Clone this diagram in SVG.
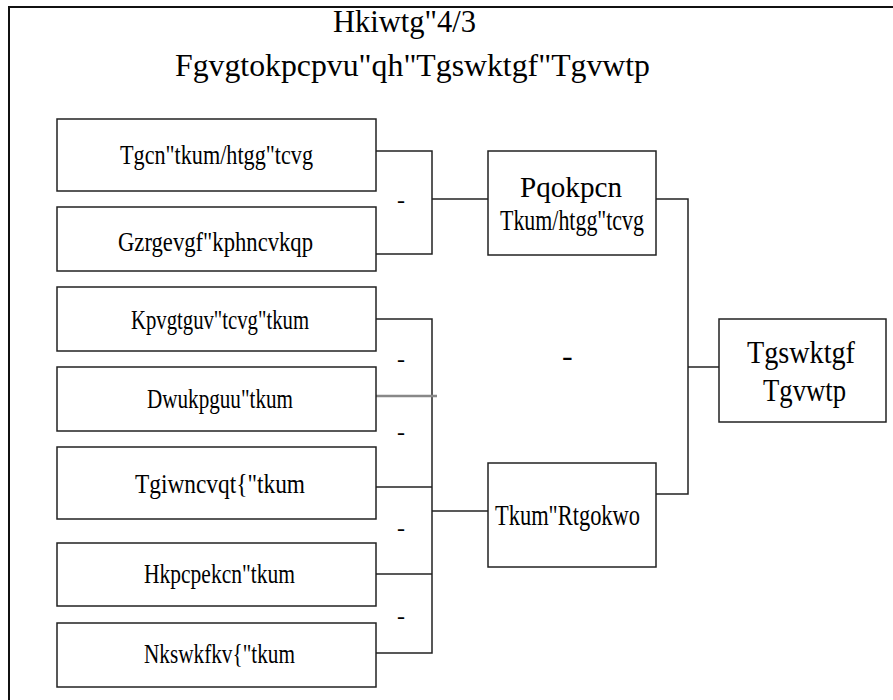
<svg xmlns="http://www.w3.org/2000/svg" width="893" height="700" viewBox="0 0 893 700" font-family="Liberation Serif, Times New Roman, serif">
<style>
.box{fill:#fff;stroke:#222;stroke-width:1.5}
.ln{fill:none;stroke:#222;stroke-width:1.5}
.lbl{font-size:27px}
.mid{font-size:29px}
.big{font-size:32px}
.plus{font-size:24px}
</style>
<rect x="0" y="0" width="893" height="700" fill="#fff"/>
<rect x="9" y="7" width="900" height="720" fill="none" stroke="#111" stroke-width="2"/>
<g id="title">
<text class="big" x="333" y="32" textLength="143" lengthAdjust="spacingAndGlyphs">Hkiwtg"4/3</text>
<text class="big" x="175" y="76" textLength="475" lengthAdjust="spacingAndGlyphs">Fgvgtokpcpvu"qh"Tgswktgf"Tgvwtp</text>
</g>
<g id="connectors">
<polyline class="ln" points="376,151 432,151 432,254 376,254"/>
<line class="ln" x1="432" y1="199" x2="488" y2="199"/>
<polyline class="ln" points="656,199 688,199 688,494 656,494"/>
<line class="ln" x1="688" y1="367" x2="719" y2="367"/>
<polyline class="ln" points="376,319 432,319 432,653 376,653"/>
<line class="ln" x1="376" y1="487" x2="432" y2="487"/>
<line class="ln" x1="376" y1="574" x2="432" y2="574"/>
<line class="ln" x1="432" y1="511" x2="488" y2="511"/>
<line x1="373" y1="396" x2="437" y2="396" stroke="#888" stroke-width="2.5"/>
</g>
<g id="plus-signs">
<text class="plus" x="397" y="208">-</text>
<text class="plus" x="397" y="367">-</text>
<text class="plus" x="397" y="440">-</text>
<text class="plus" x="397" y="536">-</text>
<text class="plus" x="397" y="624">-</text>
<text class="big" x="562" y="366">-</text>
</g>
<g id="real-rate">
<rect class="box" x="57" y="119" width="319" height="72"/>
<text class="lbl" x="120" y="164" textLength="193" lengthAdjust="spacingAndGlyphs">Tgcn"tkum/htgg"tcvg</text>
</g>
<g id="inflation">
<rect class="box" x="57" y="207" width="319" height="64"/>
<text class="lbl" x="118" y="251" textLength="195" lengthAdjust="spacingAndGlyphs">Gzrgevgf"kphncvkqp</text>
</g>
<g id="interest-risk">
<rect class="box" x="57" y="287" width="319" height="64"/>
<text class="lbl" x="131" y="329" textLength="178" lengthAdjust="spacingAndGlyphs">Kpvgtguv"tcvg"tkum</text>
</g>
<g id="business-risk">
<rect class="box" x="57" y="367" width="319" height="64"/>
<text class="lbl" x="147" y="408" textLength="146" lengthAdjust="spacingAndGlyphs">Dwukpguu"tkum</text>
</g>
<g id="regulatory-risk">
<rect class="box" x="57" y="447" width="319" height="72"/>
<text class="lbl" x="135" y="493" textLength="170" lengthAdjust="spacingAndGlyphs">Tgiwncvqt{"tkum</text>
</g>
<g id="financial-risk">
<rect class="box" x="57" y="543" width="319" height="63"/>
<text class="lbl" x="144" y="583" textLength="151" lengthAdjust="spacingAndGlyphs">Hkpcpekcn"tkum</text>
</g>
<g id="liquidity-risk">
<rect class="box" x="57" y="623" width="319" height="64"/>
<text class="lbl" x="144" y="663" textLength="151" lengthAdjust="spacingAndGlyphs">Nkswkfkv{"tkum</text>
</g>
<g id="nominal-rate">
<rect class="box" x="488" y="151" width="168" height="104"/>
<text class="mid" x="520" y="197" textLength="102" lengthAdjust="spacingAndGlyphs">Pqokpcn</text>
<text class="mid" x="500" y="230" textLength="144" lengthAdjust="spacingAndGlyphs">Tkum/htgg"tcvg</text>
</g>
<g id="risk-premium">
<rect class="box" x="488" y="463" width="168" height="104"/>
<text class="mid" x="495" y="525" textLength="145" lengthAdjust="spacingAndGlyphs">Tkum"Rtgokwo</text>
</g>
<g id="required-return">
<rect class="box" x="719" y="319" width="167" height="103"/>
<text class="big" x="747" y="363" textLength="108" lengthAdjust="spacingAndGlyphs">Tgswktgf</text>
<text class="big" x="763" y="401" textLength="83" lengthAdjust="spacingAndGlyphs">Tgvwtp</text>
</g>
</svg>
